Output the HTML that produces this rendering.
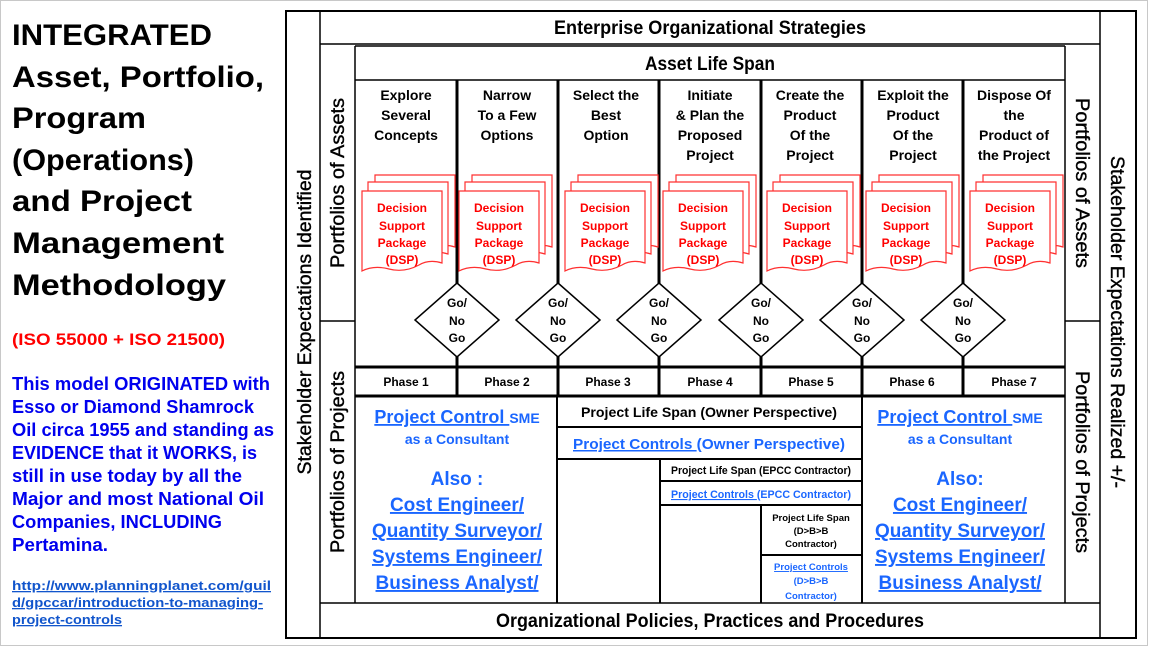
<!DOCTYPE html>
<html><head><meta charset="utf-8"><style>
html,body{margin:0;padding:0;background:#fff;}
svg{display:block;}
text{font-family:"Liberation Sans",sans-serif;}
</style></head><body>
<svg width="1150" height="647" viewBox="0 0 1150 647" xmlns="http://www.w3.org/2000/svg">
<rect x="0.5" y="0.5" width="1147" height="645" fill="#fff" stroke="#c8c8c8"/>
<g font-weight="bold" font-size="30" fill="#000">
<text x="12" y="45" textLength="200" lengthAdjust="spacingAndGlyphs">INTEGRATED</text>
<text x="12" y="87" textLength="252" lengthAdjust="spacingAndGlyphs">Asset, Portfolio,</text>
<text x="12" y="128" textLength="134" lengthAdjust="spacingAndGlyphs">Program</text>
<text x="12" y="170" textLength="182" lengthAdjust="spacingAndGlyphs">(Operations)</text>
<text x="12" y="211" textLength="180" lengthAdjust="spacingAndGlyphs">and Project</text>
<text x="12" y="253" textLength="212" lengthAdjust="spacingAndGlyphs">Management</text>
<text x="12" y="295" textLength="214" lengthAdjust="spacingAndGlyphs">Methodology</text>
</g>
<text x="12" y="345" font-weight="bold" font-size="17" fill="#ff0000" textLength="213" lengthAdjust="spacingAndGlyphs">(ISO 55000 + ISO 21500)</text>
<g font-weight="bold" font-size="18" fill="#0000ee">
<text x="12" y="390" textLength="258" lengthAdjust="spacingAndGlyphs">This model ORIGINATED with</text>
<text x="12" y="413" textLength="242" lengthAdjust="spacingAndGlyphs">Esso or Diamond Shamrock</text>
<text x="12" y="436" textLength="262" lengthAdjust="spacingAndGlyphs">Oil circa 1955 and standing as</text>
<text x="12" y="459" textLength="245" lengthAdjust="spacingAndGlyphs">EVIDENCE that it WORKS, is</text>
<text x="12" y="482" textLength="230" lengthAdjust="spacingAndGlyphs">still in use today by all the</text>
<text x="12" y="505" textLength="252" lengthAdjust="spacingAndGlyphs">Major and most National Oil</text>
<text x="12" y="528" textLength="210" lengthAdjust="spacingAndGlyphs">Companies, INCLUDING</text>
<text x="12" y="551" textLength="96" lengthAdjust="spacingAndGlyphs">Pertamina.</text>
</g>
<g font-weight="bold" font-size="13" fill="#1155cc" text-decoration="underline">
<text x="12" y="590" textLength="259" lengthAdjust="spacingAndGlyphs">http://www.planningplanet.com/guil</text>
<text x="12" y="607" textLength="251" lengthAdjust="spacingAndGlyphs">d/gpccar/introduction-to-managing-</text>
<text x="12" y="624" textLength="110" lengthAdjust="spacingAndGlyphs">project-controls</text>
</g>

<g fill="none" stroke="#000">
<rect x="286" y="11" width="850" height="627" stroke-width="2"/>
<line x1="320" y1="11" x2="320" y2="638" stroke-width="1.5"/>
<line x1="1100" y1="11" x2="1100" y2="638" stroke-width="1.5"/>
<line x1="320" y1="44" x2="1100" y2="44" stroke-width="1.5"/>
<line x1="320" y1="603" x2="1100" y2="603" stroke-width="1.5"/>
<line x1="355" y1="46" x2="355" y2="603" stroke-width="1.5"/>
<line x1="1065" y1="46" x2="1065" y2="603" stroke-width="1.5"/>
<line x1="355" y1="46" x2="1065" y2="46" stroke-width="1.5"/>
<line x1="355" y1="80" x2="1065" y2="80" stroke-width="1.5"/>
<line x1="320" y1="321" x2="355" y2="321" stroke-width="1.5"/>
<line x1="1065" y1="321" x2="1100" y2="321" stroke-width="1.5"/>
<line x1="355" y1="367" x2="1065" y2="367" stroke-width="3"/>
<line x1="355" y1="396" x2="1065" y2="396" stroke-width="3"/>
<g stroke-width="3">
<line x1="457" y1="80" x2="457" y2="396"/><line x1="558" y1="80" x2="558" y2="396"/>
<line x1="659" y1="80" x2="659" y2="396"/><line x1="761" y1="80" x2="761" y2="396"/>
<line x1="862" y1="80" x2="862" y2="396"/><line x1="963" y1="80" x2="963" y2="396"/>
</g>
<g stroke-width="2">
<line x1="557" y1="396" x2="557" y2="603"/><line x1="862" y1="396" x2="862" y2="603"/>
<line x1="557" y1="427" x2="862" y2="427"/><line x1="557" y1="459" x2="862" y2="459"/>
<line x1="660" y1="459" x2="660" y2="603"/><line x1="660" y1="481" x2="862" y2="481"/><line x1="660" y1="505" x2="862" y2="505"/>
<line x1="761" y1="505" x2="761" y2="603"/><line x1="761" y1="555" x2="862" y2="555"/>
</g>
</g>

<g font-weight="bold" fill="#000" text-anchor="middle">
<text x="710" y="34" font-size="19" textLength="312" lengthAdjust="spacingAndGlyphs">Enterprise Organizational Strategies</text>
<text x="710" y="70" font-size="19" textLength="130" lengthAdjust="spacingAndGlyphs">Asset Life Span</text>
<text x="710" y="627" font-size="19" textLength="428" lengthAdjust="spacingAndGlyphs">Organizational Policies, Practices and Procedures</text>
</g>
<g font-weight="bold" font-size="14" fill="#000" text-anchor="middle">
<text x="406" y="100">Explore</text><text x="406" y="120">Several</text><text x="406" y="140">Concepts</text>
<text x="507" y="100">Narrow</text><text x="507" y="120">To a Few</text><text x="507" y="140">Options</text>
<text x="606" y="100">Select the</text><text x="606" y="120">Best</text><text x="606" y="140">Option</text>
<text x="710" y="100">Initiate</text><text x="710" y="120">&amp; Plan the</text><text x="710" y="140">Proposed</text><text x="710" y="160">Project</text>
<text x="810" y="100">Create the</text><text x="810" y="120">Product</text><text x="810" y="140">Of the</text><text x="810" y="160">Project</text>
<text x="913" y="100">Exploit the</text><text x="913" y="120">Product</text><text x="913" y="140">Of the</text><text x="913" y="160">Project</text>
<text x="1014" y="100">Dispose Of</text><text x="1014" y="120">the</text><text x="1014" y="140">Product of</text><text x="1014" y="160">the Project</text>
</g>
<g font-weight="bold" font-size="12" fill="#000" text-anchor="middle">
<text x="406" y="386">Phase 1</text><text x="507" y="386">Phase 2</text><text x="608" y="386">Phase 3</text>
<text x="710" y="386">Phase 4</text><text x="811" y="386">Phase 5</text><text x="912" y="386">Phase 6</text><text x="1014" y="386">Phase 7</text>
</g>

<defs>
<g id="dsp">
<path d="M13 0 H93 V72 Q80 68 70 74 Q55 82 40 78 Q25 74 13 80 Z" fill="#fff" stroke="#ff3030" stroke-width="1.2"/>
<path d="M6 7 H86 V79 Q73 75 63 81 Q48 89 33 85 Q18 81 6 87 Z" fill="#fff" stroke="#ff3030" stroke-width="1.2"/>
<path d="M0 16 H80 V88 Q67 84 57 90 Q42 98 27 94 Q12 90 0 96 Z" fill="#fff" stroke="#ff3030" stroke-width="1.2"/>
<g font-family="Liberation Sans,sans-serif" font-weight="bold" font-size="12" fill="#ff0000" text-anchor="middle">
<text x="40" y="37">Decision</text><text x="40" y="55">Support</text><text x="40" y="72">Package</text><text x="40" y="89">(DSP)</text>
</g>
</g>
<g id="dia">
<polygon points="0,-37 42,0 0,37 -42,0" fill="#fff" stroke="#000" stroke-width="1.5"/>
<g font-family="Liberation Sans,sans-serif" font-weight="bold" font-size="12" fill="#000" text-anchor="middle">
<text x="0" y="-13">Go/</text><text x="0" y="5">No</text><text x="0" y="22">Go</text></g>
</g>
</defs>
<use href="#dsp" x="362" y="175"/>
<use href="#dsp" x="459" y="175"/>
<use href="#dsp" x="565" y="175"/>
<use href="#dsp" x="663" y="175"/>
<use href="#dsp" x="767" y="175"/>
<use href="#dsp" x="866" y="175"/>
<use href="#dsp" x="970" y="175"/>
<use href="#dia" x="457" y="320"/>
<use href="#dia" x="558" y="320"/>
<use href="#dia" x="659" y="320"/>
<use href="#dia" x="761" y="320"/>
<use href="#dia" x="862" y="320"/>
<use href="#dia" x="963" y="320"/>

<g font-size="19" fill="#000" text-anchor="middle" stroke="#000" stroke-width="0.4">
<text transform="translate(311,322) rotate(-90)" textLength="305" lengthAdjust="spacingAndGlyphs">Stakeholder Expectations Identified</text>
<text transform="translate(344,183) rotate(-90)" textLength="170" lengthAdjust="spacingAndGlyphs">Portfolios of Assets</text>
<text transform="translate(344,462) rotate(-90)" textLength="182" lengthAdjust="spacingAndGlyphs">Portfolios of Projects</text>
<text transform="translate(1076,183) rotate(90)" textLength="170" lengthAdjust="spacingAndGlyphs">Portfolios of Assets</text>
<text transform="translate(1076,462) rotate(90)" textLength="182" lengthAdjust="spacingAndGlyphs">Portfolios of Projects</text>
<text transform="translate(1111,322) rotate(90)" textLength="332" lengthAdjust="spacingAndGlyphs">Stakeholder Expectations Realized +/-</text>
</g>

<g font-weight="bold" fill="#1a66ff" text-anchor="middle">
<text x="457" y="423" font-size="18"><tspan text-decoration="underline">Project Control </tspan><tspan font-size="14">SME</tspan></text>
<text x="457" y="444" font-size="14">as a Consultant</text>
<text x="457" y="485" font-size="19">Also :</text>
<text x="457" y="511" font-size="19" text-decoration="underline">Cost Engineer/</text>
<text x="457" y="537" font-size="19" text-decoration="underline">Quantity Surveyor/</text>
<text x="457" y="563" font-size="19" text-decoration="underline">Systems Engineer/</text>
<text x="457" y="589" font-size="19" text-decoration="underline">Business Analyst/</text>
<text x="960" y="423" font-size="18"><tspan text-decoration="underline">Project Control </tspan><tspan font-size="14">SME</tspan></text>
<text x="960" y="444" font-size="14">as a Consultant</text>
<text x="960" y="485" font-size="19">Also:</text>
<text x="960" y="511" font-size="19" text-decoration="underline">Cost Engineer/</text>
<text x="960" y="537" font-size="19" text-decoration="underline">Quantity Surveyor/</text>
<text x="960" y="563" font-size="19" text-decoration="underline">Systems Engineer/</text>
<text x="960" y="589" font-size="19" text-decoration="underline">Business Analyst/</text>
</g>

<g font-weight="bold" text-anchor="middle">
<text x="709" y="417" font-size="14" fill="#000" textLength="256" lengthAdjust="spacingAndGlyphs">Project Life Span (Owner Perspective)</text>
<text x="709" y="449" font-size="15" fill="#1a66ff" textLength="272" lengthAdjust="spacingAndGlyphs"><tspan text-decoration="underline">Project Controls </tspan>(Owner Perspective)</text>
<text x="761" y="474" font-size="11" fill="#000" textLength="180" lengthAdjust="spacingAndGlyphs">Project Life Span (EPCC Contractor)</text>
<text x="761" y="498" font-size="11" fill="#1a66ff" textLength="180" lengthAdjust="spacingAndGlyphs"><tspan text-decoration="underline">Project Controls </tspan>(EPCC Contractor)</text>
<g font-size="9.5" fill="#000"><text x="811" y="521">Project Life Span</text><text x="811" y="534">(D&gt;B&gt;B</text><text x="811" y="547">Contractor)</text></g>
<g font-size="9.5" fill="#1a66ff"><text x="811" y="570" text-decoration="underline">Project Controls</text><text x="811" y="584">(D&gt;B&gt;B</text><text x="811" y="599">Contractor)</text></g>
</g>
</svg>
</body></html>
